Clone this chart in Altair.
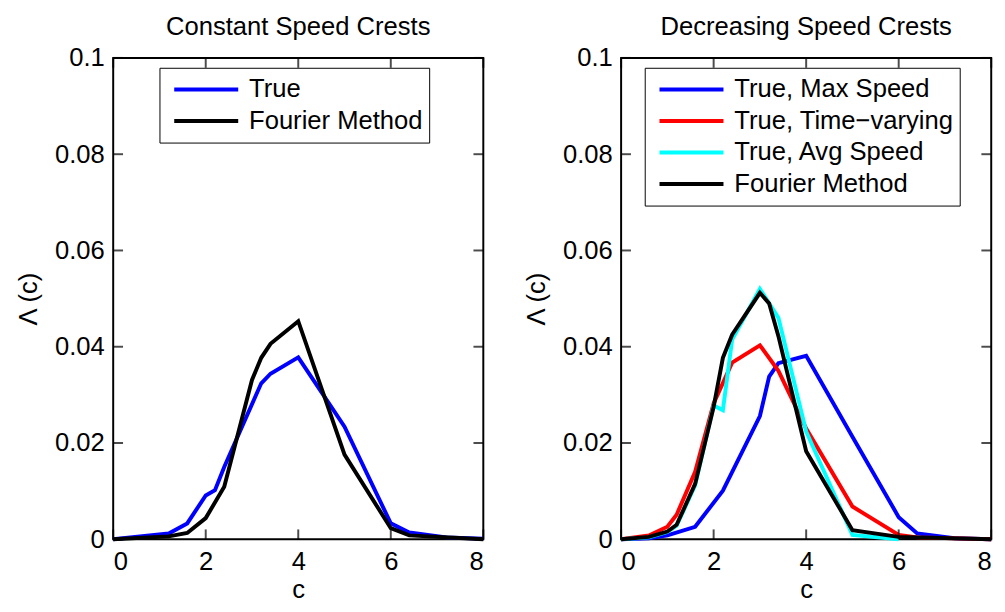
import altair as alt
import pandas as pd

FONT = "Liberation Sans"
FS = 26

# ---------------- data: left panel (Constant Speed Crests) ----------------
left_names = ["True", "Fourier Method"]
left_colors = ["#0000ff", "#000000"]

c_true_L = [0, 1.2, 1.6, 2.0, 2.2, 2.4, 3.2, 3.4, 4.0, 5.0, 6.0, 6.4, 7.2, 8.0]
y_true_L = [0, 0.0012, 0.0033, 0.0091, 0.0102, 0.0150, 0.0324, 0.0344, 0.0378,
            0.0234, 0.0033, 0.0014, 0.0004, 0.0001]

c_four_L = [0, 1.2, 1.6, 2.0, 2.4, 3.0, 3.2, 3.4, 4.0, 5.0, 6.0, 6.4, 8.0]
y_four_L = [0, 0.0006, 0.0013, 0.0044, 0.0109, 0.0331, 0.0377, 0.0406, 0.0453,
            0.0176, 0.0023, 0.0008, 0.0]

# ---------------- data: right panel (Decreasing Speed Crests) ----------------
right_names = ["True, Max Speed", "True, Time\u2212varying", "True, Avg Speed", "Fourier Method"]
right_colors = ["#0000ff", "#ff0000", "#00ffff", "#000000"]

c_max_R = [0, 0.6, 1.0, 1.6, 2.2, 3.0, 3.2, 3.4, 4.0, 5.0, 6.0, 6.4, 7.2, 8.0]
y_max_R = [0, 0.0002, 0.0008, 0.0026, 0.0101, 0.0256, 0.0338, 0.0366, 0.0381,
           0.0213, 0.0046, 0.0012, 0.0002, 0.0]

c_tv_R = [0, 0.6, 1.0, 1.2, 1.6, 2.0, 2.4, 3.0, 3.4, 4.0, 5.0, 6.0, 6.4, 8.0]
y_tv_R = [0, 0.0008, 0.0026, 0.0051, 0.0140, 0.0282, 0.0367, 0.0403, 0.0350,
          0.0230, 0.0068, 0.0009, 0.0004, 0.0]

c_avg_R = [0, 0.6, 1.0, 1.2, 1.6, 2.0, 2.2, 2.4, 3.0, 3.4, 4.0, 5.0, 6.0]
y_avg_R = [0, 0.0004, 0.0015, 0.0028, 0.0112, 0.0278, 0.0268, 0.0415, 0.0520,
           0.0460, 0.0224, 0.0009, 0.0]

c_four_R = [0, 0.6, 1.0, 1.2, 1.6, 2.0, 2.2, 2.4, 3.0, 3.2, 3.4, 4.0, 5.0, 6.0, 8.0]
y_four_R = [0, 0.0005, 0.0016, 0.0030, 0.0115, 0.0275, 0.0377, 0.0425, 0.0512,
            0.0490, 0.0422, 0.0183, 0.0019, 0.0005, 0.0]

x_ticks = [0, 2, 4, 6, 8]
y_ticks = [0, 0.02, 0.04, 0.06, 0.08, 0.1]
X_MIN, X_MAX = 0, 8
Y_MIN, Y_MAX = 0, 0.1


def make_df(names, cs_list, ys_list):
    rows = []
    for name, cs, ys in zip(names, cs_list, ys_list):
        for c, y in zip(cs, ys):
            rows.append({"c": c, "L": y, "series": name})
    return pd.DataFrame(rows)


def panel(title, names, colors, cs_list, ys_list, legend_x):
    df = make_df(names, cs_list, ys_list)
    xs = alt.Scale(domain=[X_MIN, X_MAX], nice=False, zero=False)
    ys = alt.Scale(domain=[Y_MIN, Y_MAX], nice=False, zero=False)

    ax_x = alt.Axis(orient="bottom", values=x_ticks, format="d", title="c",
                    tickSize=0, tickOpacity=0, domain=False, grid=False,
                    labelPadding=10, titlePadding=2)
    ax_y = alt.Axis(orient="left", values=y_ticks, format="~g", title="\u039b (c)",
                    tickSize=0, tickOpacity=0, domain=False, grid=False,
                    labelPadding=9, titlePadding=13)

    color = alt.Color(
        "series:N",
        scale=alt.Scale(domain=names, range=colors),
        legend=alt.Legend(
            title=None, orient="none", legendX=legend_x, legendY=10,
            symbolType="stroke", symbolStrokeWidth=4, symbolSize=4225,
            labelFont=FONT, labelFontSize=FS, labelColor="black", labelLimit=500,
            strokeColor="black", fillColor="white", padding=6,
            symbolOffset=7, labelOffset=9, rowPadding=0, clipHeight=32,
            cornerRadius=0,
        ),
    )

    layers = []
    for name in names:
        layers.append(
            alt.Chart(df)
            .transform_filter(alt.datum.series == name)
            .mark_line(strokeWidth=4)
            .encode(
                x=alt.X("c:Q", scale=xs, axis=ax_x),
                y=alt.Y("L:Q", scale=ys, axis=ax_y),
                color=color,
            )
        )

    # inward tick marks on all four sides, placed through the scales
    xt = pd.DataFrame({"c": x_ticks})
    yt = pd.DataFrame({"L": y_ticks})
    tick_v = dict(orient="vertical", size=10, thickness=2, color="black")
    tick_h = dict(orient="horizontal", size=10, thickness=2, color="black")
    t_bottom = alt.Chart(xt).mark_tick(**tick_v).encode(
        x=alt.X("c:Q", scale=xs, axis=ax_x),
        y=alt.YDatum(Y_MIN, type="quantitative", scale=ys, axis=ax_y),
        yOffset=alt.value(-5))
    t_top = alt.Chart(xt).mark_tick(**tick_v).encode(
        x=alt.X("c:Q", scale=xs, axis=ax_x),
        y=alt.YDatum(Y_MAX, type="quantitative", scale=ys, axis=ax_y),
        yOffset=alt.value(5))
    t_left = alt.Chart(yt).mark_tick(**tick_h).encode(
        y=alt.Y("L:Q", scale=ys, axis=ax_y),
        x=alt.XDatum(X_MIN, type="quantitative", scale=xs, axis=ax_x),
        xOffset=alt.value(5))
    t_right = alt.Chart(yt).mark_tick(**tick_h).encode(
        y=alt.Y("L:Q", scale=ys, axis=ax_y),
        x=alt.XDatum(X_MAX, type="quantitative", scale=xs, axis=ax_x),
        xOffset=alt.value(-5))

    return alt.layer(*layers, t_bottom, t_top, t_left, t_right).properties(
        width=376, height=489,
        title=alt.TitleParams(title, font=FONT, fontSize=FS, fontWeight="normal",
                              color="black", anchor="middle", baseline="alphabetic",
                              offset=-16),
    )


left = panel("Constant Speed Crests", left_names, left_colors,
             [c_true_L, c_four_L], [y_true_L, y_four_L], 47)
right = panel("Decreasing Speed Crests", right_names, right_colors,
              [c_max_R, c_tv_R, c_avg_R, c_four_R],
              [y_max_R, y_tv_R, y_avg_R, y_four_R], 24)

chart = (
    alt.hconcat(left, right, spacing=31)
    .resolve_scale(color="independent")
    .properties(padding={"left": 15, "top": 9, "right": 5, "bottom": 2},
                background="white")
    .configure_view(stroke="black", strokeWidth=2)
    .configure_axis(labelFont=FONT, labelFontSize=FS, labelColor="black",
                    titleFont=FONT, titleFontSize=FS, titleFontWeight="normal",
                    titleColor="black")
)

chart.save("out.html", embed_options={"renderer": "svg", "actions": False})
